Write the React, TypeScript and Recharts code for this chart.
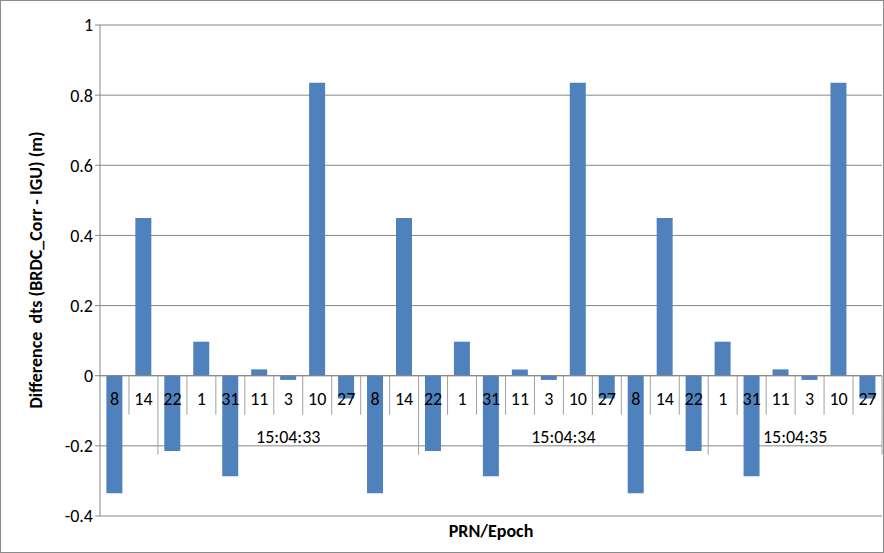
import React from 'react';
import { BarChart, Bar, XAxis, YAxis, CartesianGrid, ReferenceLine } from 'recharts';

const prns = ['8', '14', '22', '1', '31', '11', '3', '10', '27'];
const epochs = ['15:04:33', '15:04:34', '15:04:35'];
const diffs = [-0.335, 0.45, -0.215, 0.097, -0.287, 0.018, -0.012, 0.835, -0.065];
// Excel draws the epoch separators at these category boundaries
const epochBounds = [2, 11, 21, 27];
const yTicks = [-0.4, -0.2, 0, 0.2, 0.4, 0.6, 0.8, 1];

const data = epochs.flatMap((ep, e) =>
  prns.map((p, i) => ({ idx: e * prns.length + i, prn: p, epoch: ep, value: diffs[i] })),
);

const FONT = 'Carlito, "Open Sans", "Liberation Sans", sans-serif';

function CategoryLabels(props: any) {
  const { x, y, width } = props.viewBox;
  const n = data.length;
  const w = width / n;
  const items: React.ReactNode[] = [];
  data.forEach((d, i) => {
    items.push(
      <text key={'t' + i} x={x + w * (i + 0.5)} y={y + 29} textAnchor="middle" fontSize={18} fill="#000" fontFamily={FONT}>
        {d.prn}
      </text>,
    );
    items.push(<line key={'l' + i} x1={x + w * (i + 1)} x2={x + w * (i + 1)} y1={y} y2={y + 39} stroke="#a0a0a0" />);
  });
  epochBounds.forEach((b, k) => {
    const bx = x + w * b;
    items.push(<line key={'e' + k} x1={bx} x2={bx} y1={y + 39} y2={y + 79} stroke="#a0a0a0" />);
    if (k > 0) {
      const cx = x + w * ((epochBounds[k - 1] + b) / 2);
      items.push(
        <text key={'ep' + k} x={cx} y={y + 67} textAnchor="middle" fontSize={18} fill="#000" fontFamily={FONT}>
          {epochs[k - 1]}
        </text>,
      );
    }
  });
  return <g>{items}</g>;
}

export default function App() {
  return (
    <div style={{ position: 'fixed', left: 0, top: 0, width: 884, height: 553, fontFamily: FONT, background: '#fff' }}>
      <BarChart
        width={884}
        height={553}
        data={data}
        margin={{ top: 25, right: 2, bottom: 37, left: 45 }}
        barCategoryGap="22%"
      >
        <CartesianGrid vertical={false} stroke="#868686" />
        <XAxis dataKey="idx" hide />
        <YAxis
          width={55}
          domain={[-0.4, 1]}
          ticks={yTicks}
          interval={0}
          axisLine={{ stroke: '#868686' }}
          tickLine={{ stroke: '#868686' }}
          tickSize={5}
          tick={{ fontSize: 18, fill: '#000', fontFamily: FONT }}
          tickFormatter={(v: number) => String(Math.round(v * 10) / 10)}
        />
        <Bar dataKey="value" fill="#4f81bd" isAnimationActive={false} />
        <ReferenceLine y={0} stroke="#868686" label={<CategoryLabels />} />
      </BarChart>
      <div
        style={{
          position: 'absolute', left: 36, top: 270, transform: 'translate(-50%, -50%) rotate(-90deg)',
          whiteSpace: 'pre', fontWeight: 'bold', fontSize: 18,
        }}
      >
        {'Difference  dts (BRDC_Corr - IGU) (m)'}
      </div>
      <div style={{ position: 'absolute', left: 491, top: 531, transform: 'translate(-50%, -50%)', fontWeight: 'bold', fontSize: 18 }}>
        PRN/Epoch
      </div>
      <div style={{ position: 'absolute', left: 0, top: 0, width: 884, height: 553, border: '1px solid #8c8c8c', boxSizing: 'border-box', pointerEvents: 'none' }} />
    </div>
  );
}
